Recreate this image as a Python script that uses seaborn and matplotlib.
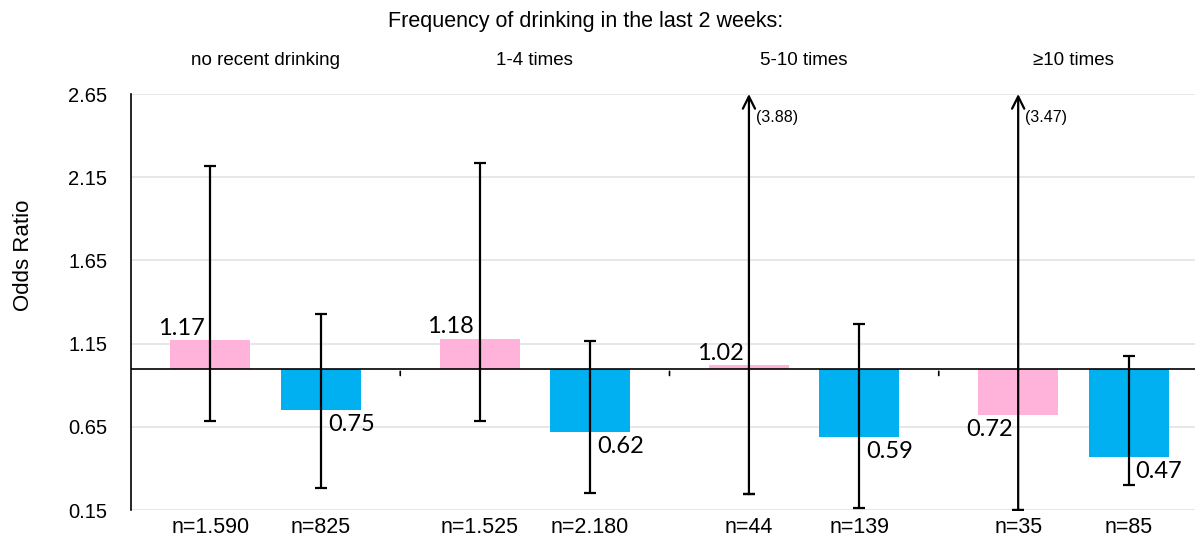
import matplotlib
matplotlib.use("Agg")
import matplotlib.pyplot as plt
import seaborn as sns
import pandas as pd
import numpy as np

groups = ["no recent drinking", "1-4 times", "5-10 times", "≥10 times"]
series = ["Pink", "Blue"]
pink_or = [1.17, 1.18, 1.02, 0.72]
blue_or = [0.75, 0.62, 0.59, 0.47]
pink_lo = [0.685, 0.685, 0.245, 0.15]
pink_hi = [2.22, 2.235, 3.88, 3.47]
blue_lo = [0.28, 0.25, 0.16, 0.30]
blue_hi = [1.33, 1.165, 1.27, 1.075]
pink_n = ["n=1.590", "n=1.525", "n=44", "n=35"]
blue_n = ["n=825", "n=2.180", "n=139", "n=85"]
yticks = [0.15, 0.65, 1.15, 1.65, 2.15, 2.65]
baseline = 1.0

PINK = "#FFB3DA"
BLUE = "#00B0F0"
MAINF = ["Liberation Sans", "DejaVu Sans"]
LABF = ["Lato", "DejaVu Sans"]

sns.set_style("white")
plt.rcParams["font.family"] = MAINF
plt.rcParams["text.color"] = "black"
plt.rcParams["ytick.color"] = "black"

df = pd.DataFrame({
    "group": groups * 2,
    "series": [series[0]] * 4 + [series[1]] * 4,
    "odds": pink_or + blue_or,
})
df["height"] = df["odds"] - baseline

fig = plt.figure(figsize=(11.95, 5.37), dpi=100)
ax = fig.add_axes([131 / 1195, 1 - 510 / 537, 1077 / 1195, 416 / 537])

sns.barplot(data=df, x="group", y="height", hue="series", order=groups,
            hue_order=series, palette=[PINK, BLUE], saturation=1, width=0.82, gap=0.276,
            bottom=baseline, legend=False, ax=ax, linewidth=0, errorbar=None)

ax.set_ylim(yticks[0], yticks[-1])
ax.set_xlim(-0.5, len(groups) - 0.5)
ax.set_yticks(yticks)
ax.set_yticklabels([f"{t:.2f}" for t in yticks], fontsize=14.5, color="black")
ax.tick_params(axis="y", length=0, pad=17)
ax.yaxis.grid(True, color="#e3e3e3", linewidth=1.2)
ax.set_axisbelow(True)
ax.set_xticks([])
ax.set_xlabel("")
ax.set_ylabel("")
for s in ["top", "right", "bottom"]:
    ax.spines[s].set_visible(False)
ax.spines["left"].set_color("black")
ax.spines["left"].set_linewidth(1.2)

# baseline axis at 1.0 with group boundary ticks
ax.axhline(baseline, color="black", linewidth=1.2, zorder=3)
for b in np.arange(0.5, len(groups) - 0.5, 1.0):
    ax.annotate("", xy=(b, baseline), xytext=(0, -7), textcoords="offset points",
                arrowprops=dict(arrowstyle="-", color="black", lw=1.2))

# bar positions from patches
patches = sorted(ax.patches, key=lambda p: p.get_x())
centers = [p.get_x() + p.get_width() / 2 for p in patches]
pink_x = centers[0::2]
blue_x = centers[1::2]

def draw_err(xs, ors, los, his):
    for x, o, lo, hi in zip(xs, ors, los, his):
        if hi <= yticks[-1]:
            ax.errorbar([x], [o], yerr=[[o - lo], [hi - o]], fmt="none",
                        ecolor="black", elinewidth=1.6, capsize=4, capthick=1.6, zorder=4)
        else:
            ax.errorbar([x], [lo], yerr=[[0], [0]], fmt="none", ecolor="black",
                        elinewidth=1.6, capsize=4, capthick=1.6, zorder=4)
            ax.annotate("", xy=(x, yticks[-1]), xytext=(x, lo),
                        arrowprops=dict(arrowstyle="->", color="black", lw=1.6,
                                        mutation_scale=22, shrinkA=0, shrinkB=0),
                        zorder=4, annotation_clip=False)
            ax.annotate(f"({hi:.2f})", xy=(x, yticks[-1]), xytext=(5, -17),
                        textcoords="offset points", fontsize=11.5, ha="left", va="center")

draw_err(pink_x, pink_or, pink_lo, pink_hi)
draw_err(blue_x, blue_or, blue_lo, blue_hi)

# value labels
for xs, ors, is_pink in [(pink_x, pink_or, True), (blue_x, blue_or, False)]:
    for x, o in zip(xs, ors):
        ha = "right" if is_pink else "left"
        dx = -4 if is_pink else 5
        if o >= baseline:
            ax.annotate(f"{o:.2f}", xy=(x, o), xytext=(dx, 1), textcoords="offset points",
                        ha=ha, va="bottom", fontsize=17, family=LABF)
        else:
            ax.annotate(f"{o:.2f}", xy=(x, o), xytext=(dx, -3), textcoords="offset points",
                        ha=ha, va="top", fontsize=17, family=LABF)

# n labels under bars
for xs, ns in [(pink_x, pink_n), (blue_x, blue_n)]:
    for x, n in zip(xs, ns):
        ax.annotate(n, xy=(x, yticks[0]), xytext=(0, -5), textcoords="offset points",
                    ha="center", va="top", fontsize=15.5, annotation_clip=False)

# group labels above
for i, g in enumerate(groups):
    ax.annotate(g, xy=(i, yticks[-1]), xytext=(0, 18), textcoords="offset points",
                ha="center", va="bottom", fontsize=13.5, annotation_clip=False)

fig.text(586 / 1195, 1 - 21 / 537, "Frequency of drinking in the last 2 weeks:",
         ha="center", va="center", fontsize=15.5)
fig.text(24 / 1195, 1 - 255 / 537, "Odds Ratio", rotation=90, ha="center",
         va="center", fontsize=16)

fig.savefig("out.png", dpi=100)
